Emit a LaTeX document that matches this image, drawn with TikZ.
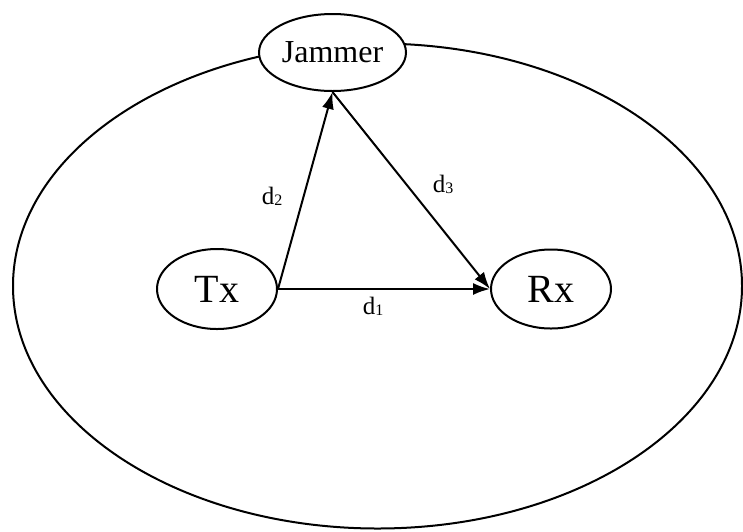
\documentclass[tikz,border=0pt]{standalone}
\usepackage{fontspec}
\setmainfont{Liberation Serif}
\usepackage{tikz}
\usetikzlibrary{shapes.geometric,positioning}
\usetikzlibrary{arrows.meta}

\newcommand{\dlab}[1]{d\raisebox{-1pt}{\fontsize{16}{16}\selectfont #1}}

\tikzset{
  station/.style={draw, ellipse, line width=2pt, fill=white, inner sep=0pt,
    minimum width=120pt, minimum height=80pt, font=\fontsize{40}{48}\selectfont},
  link/.style={line width=2pt, ->},
  dist/.style={inner sep=0pt, font=\fontsize{25}{30}\selectfont}
}

\begin{document}
\begin{tikzpicture}[x=1pt, y=-1pt, >={Latex[length=17pt,width=12pt]}]
  \useasboundingbox (0,0) rectangle (743,531);

  % coverage area
  \draw[line width=2pt] (377.5,286) ellipse [x radius=364.5pt, y radius=242.5pt];

  \path
  (332.5,52.5) coordinate (j_pos)
  (217,289)    coordinate (t_pos)
  (551,289)    coordinate (r_pos);

  % nodes
  \node[station, minimum width=147pt, minimum height=77pt,
    font=\fontsize{32}{38}\selectfont] (Jammer) at (j_pos) {Jammer};
  \node[station] (Tx) at (t_pos) {Tx};
  \node[station, minimum height=79pt] (Rx) at (r_pos) {Rx};

  % links
  \draw[link] (Tx.east) -- (Rx.west);
  \draw[link] (Tx.east) -- (Jammer.south);
  \draw[link] (Jammer.south) -- (Rx.west);

  % labels
  \node[dist] (d1) at (373,306) {\dlab{1}};
  \node[dist] (d2) at (272,196) {\dlab{2}};
  \node[dist] (d3) at (443,184) {\dlab{3}};
\end{tikzpicture}
\end{document}
